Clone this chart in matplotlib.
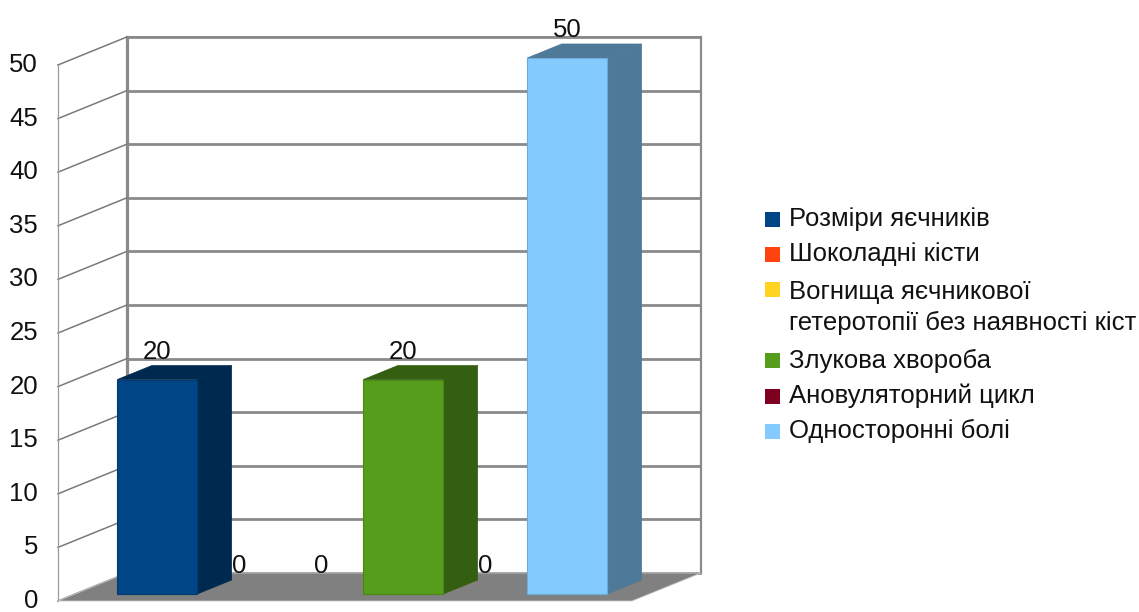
import matplotlib.pyplot as plt
from matplotlib.patches import Polygon, Rectangle

plt.rcParams['font.family'] = ['Liberation Sans', 'DejaVu Sans']

series = ['Розміри яєчників', 'Шоколадні кісти',
          'Вогнища яєчникової\nгетеротопії без наявності кіст',
          'Злукова хвороба', 'Ановуляторний цикл', 'Односторонні болі']
values = [20, 0, 0, 20, 0, 50]
colors = ['#004586', '#ff420e', '#ffd320', '#579d1c', '#7e0021', '#83caff']
yticks = [0, 5, 10, 15, 20, 25, 30, 35, 40, 45, 50]

# fake 3d: offset of the back plane in data units
DX, DY = 0.84, 2.61
D0, D1 = 0.25, 0.75      # bar depth range (fraction of floor depth)
W = 0.975                # bar width
NX = len(values) + 1     # floor length in slots
FS = 18.5


def shade(c, k=0.6):
    r, g, b = [int(c[i:i + 2], 16) for i in (1, 3, 5)]
    return '#%02x%02x%02x' % (int(r * k), int(g * k), int(b * k))


fig = plt.figure(figsize=(11.39, 6.12), dpi=100)
ax = fig.add_axes([0, 0, 1, 1])
ax.set_xlim(-0.707, 13.183)
ax.set_ylim(-1.026, 56.06)
ax.axis('off')

grid = '#8a8a8a'
top = yticks[-1]

# back wall grid
for v in yticks:
    ax.plot([DX, NX + DX], [v + DY, v + DY], color=grid, lw=2, zorder=1,
            solid_capstyle='butt')
ax.plot([DX, DX], [DY, top + DY], color=grid, lw=2.3, zorder=1)
ax.plot([NX + DX, NX + DX], [DY, top + DY], color=grid, lw=1.6, zorder=1)
ax.plot([DX, NX + DX], [top + DY, top + DY], color=grid, lw=1.4, zorder=1)

# left wall
for v in yticks:
    ax.plot([0, DX], [v, v + DY], color='#7a7a7a', lw=1.1, zorder=1)
ax.plot([0, 0], [0, top], color='#9a9a9a', lw=0.9, zorder=1)

# floor
ax.add_patch(Polygon([(0, 0), (NX, 0), (NX + DX, DY), (DX, DY)], closed=True,
                     facecolor='#808080', edgecolor='#c8c8c8', lw=0.6, zorder=2))

# tick labels
for v in yticks:
    ax.text(-0.245, v, str(v), ha='right', va='center', fontsize=FS, color='#111111')

# bars
for i, (v, c) in enumerate(zip(values, colors)):
    xc = i + 1
    x0 = xc - W / 2 + D0 * DX
    x1 = xc + W / 2 + D0 * DX
    yb = D0 * DY
    sx, sy = (D1 - D0) * DX, (D1 - D0) * DY

    ax.annotate(str(v), (xc + D0 * DX, v + D1 * DY), xytext=(0, 5),
                textcoords='offset points', ha='center', va='baseline',
                fontsize=FS, color='#111111', zorder=3)
    if v <= 0:
        continue
    dark = shade(c)
    ax.add_patch(Polygon([(x1, yb), (x1 + sx, yb + sy), (x1 + sx, yb + sy + v), (x1, yb + v)],
                         closed=True, facecolor=dark, edgecolor=dark, lw=0.5, zorder=4))
    ax.add_patch(Polygon([(x0, yb + v), (x0 + sx, yb + sy + v), (x1 + sx, yb + sy + v), (x1, yb + v)],
                         closed=True, facecolor=dark, edgecolor=dark, lw=0.5, zorder=4))
    ax.add_patch(Rectangle((x0, yb), x1 - x0, v, facecolor=c,
                           edgecolor=shade(c, 0.85), lw=0.8, zorder=5))

# legend
W_PX, H_PX = 1139, 612
PITCH = 35.4
line = 0
for name, c in zip(series, colors):
    n = name.count('\n') + 1
    yc = 219 + PITCH * line
    ym = yc + PITCH * (n - 1) / 2
    ax.add_patch(Rectangle((765 / W_PX, 1 - (yc + 7.5) / H_PX), 15 / W_PX, 15 / H_PX,
                           transform=ax.transAxes, facecolor=c, edgecolor='none'))
    ax.text(789 / W_PX, 1 - ym / H_PX, name, transform=ax.transAxes, ha='left',
            va='center', fontsize=FS, color='#111111', linespacing=1.4)
    line += n

fig.savefig('out.png', dpi=100)
